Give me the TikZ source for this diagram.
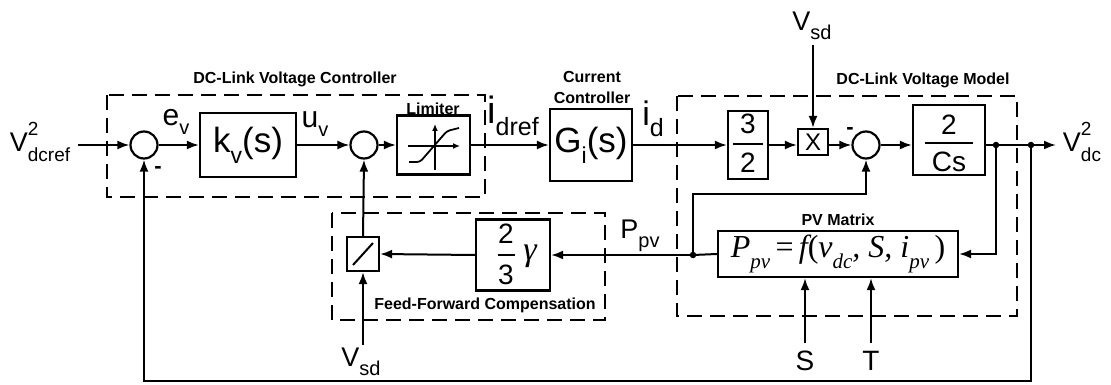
\documentclass[tikz,border=0pt]{standalone}
\usepackage{fontspec}
\setmainfont{Liberation Sans}
\newfontfamily\tnr{Liberation Serif}
\usetikzlibrary{arrows.meta,calc}
\newcommand\fs[1]{\fontsize{#1}{#1}\selectfont}
\newcommand\sbs[2]{\raisebox{-0.32em}{\fs{#1}#2}}
\begin{document}
\begin{tikzpicture}[x=1pt,y=-1pt,
  blk/.style={draw, line width=2.2pt, inner sep=0pt},
  sumc/.style={draw, circle, line width=2.2pt, minimum size=27pt, inner sep=0pt},
  grp/.style={draw, line width=2.4pt, dash pattern=on 15pt off 8pt},
  con/.style={line width=2pt},
  arr/.style={con, -{Latex[length=12pt,width=9pt]}},
  sarr/.style={line width=1.5pt, -{Latex[length=7pt,width=6pt]}},
  jdot/.style={circle, fill, inner sep=0pt, minimum size=6.5pt},
  lbl/.style={font=\fs{16}\bfseries, inner sep=0pt},
  txt/.style={inner sep=0pt}]
\useasboundingbox (0,0) rectangle (1111,385);
% dashed groups
\draw[grp] (107,95) rectangle (485,197);
\draw[grp] (332,213) rectangle (605,320);
\draw[grp] (677,96) rectangle (1017,316);
\node[lbl] (lvc) at (295,79) {DC-Link Voltage Controller};
\node[lbl] (lcc1) at (592,77) {Current};
\node[lbl] (lcc2) at (592,98) {Controller};
\node[lbl] (lvm) at (923,80) {DC-Link Voltage Model};
\node[lbl] (lpv) at (838,220) {PV Matrix};
\node[lbl] (lff) at (485,305) {Feed-Forward Compensation};
% blocks
\node[sumc] (s1) at (144,145) {};
\node[blk, minimum width=96pt, minimum height=64pt] (kv) at (248,145) {\fs{35}k\sbs{23}{v}(s)};
\node[sumc] (s2) at (364,145) {};
\node[blk, minimum width=73pt, minimum height=59pt] (lim) at (433.5,145) {};
\node[lbl] (llim) at (433,109) {Limiter};
\node[blk, minimum width=82pt, minimum height=72pt] (gi) at (591,145) {\fs{35}G\sbs{23}{i}(s)};
\node[blk, minimum width=40pt, minimum height=68pt] (k32) at (748,145) {};
\node[txt, font=\fs{28}] (k32a) at (748,124) {3};
\node[txt, font=\fs{28}] (k32b) at (748,163) {2};
\draw[line width=1.8pt] (733,144) -- (763,144);
\node[blk, minimum width=30pt, minimum height=26pt, font=\fs{24}] (mul) at (813,142) {X};
\node[sumc] (s3) at (866,145) {};
\node[blk, minimum width=72pt, minimum height=70pt] (f2cs) at (949,140) {};
\node[txt, font=\fs{28}] (f2a) at (949,125) {2};
\node[txt, font=\fs{28}] (f2b) at (949,162) {Cs};
\draw[line width=1.8pt] (925,143) -- (973,143);
\node[blk, minimum width=240pt, minimum height=46pt] (pv) at (838,254)
  {\tnr\itshape\fs{32}P\sbs{21}{pv}\,{\upshape =}\,f{\upshape (}v\sbs{21}{dc}, S, i\sbs{21}{pv}\,{\upshape )}};
\node[blk, minimum width=74pt, minimum height=71pt] (f23) at (513,255) {};
\node[txt, font=\fs{28}] (f23a) at (506,234) {2};
\node[txt, font=\fs{28}] (f23b) at (506,275) {3};
\draw[line width=1.8pt] (498,255) -- (515,255);
\node[txt, font=\tnr\itshape\fs{34}] (gam) at (530,256) {γ};
\node[blk, minimum width=32pt, minimum height=34pt] (div) at (363,254) {};
\draw[line width=2pt] (353,265) -- (373,243);
% limiter symbol
\draw[sarr] (408,146) -- (460,146);
\draw[sarr] (435,170) -- (435,124);
\draw[line width=1.8pt, rounded corners=3pt] (409,162) -- (420,162) -- (447,131) -- (459,128);
% junctions and terminals
\coordinate (in) at (78,145);
\coordinate (vsdt) at (813,45);
\coordinate (vsdb) at (363,345);
\coordinate (sin) at (805,343);
\coordinate (tin) at (871,343);
\coordinate (out) at (1056,145);
\coordinate (fb) at (1031,381);
\coordinate (up) at (693,194);
\node[jdot] (j1) at (996,145) {};
\node[jdot] (j2) at (1031,145) {};
\node[jdot] (j3) at (693,255) {};
% labels
\node[txt, font=\fs{27}] (lref) at (40,142) {V\rlap{\raisebox{0.6em}{\fs{19}2}}\raisebox{-0.35em}{\fs{19}dcref}};
\node[txt, font=\fs{27}] (lout) at (1082,142) {V\rlap{\raisebox{0.6em}{\fs{19}2}}\raisebox{-0.35em}{\fs{19}dc}};
\node[txt, font=\fs{27}] (lvsdt) at (812,26) {V\sbs{20}{sd}};
\node[txt, font=\fs{27}] (lvsdb) at (361,362) {V\sbs{20}{sd}};
\node[txt, font=\fs{28}] (lS) at (805,361) {S};
\node[txt, font=\fs{28}] (lT) at (871,361) {T};
\node[txt, font=\fs{30}] (lev) at (176,122) {e\sbs{20}{v}};
\node[txt, font=\fs{30}] (luv) at (315,124) {u\sbs{20}{v}};
\node[txt, font=\fs{38}] (lid) at (513,116) {i\sbs{25}{dref}};
\node[txt, font=\fs{34}] (lidd) at (653,119) {i\sbs{25}{d}};
\node[txt, font=\fs{27}] (lppv) at (640,236) {P\sbs{20}{pv}};
\node[txt, font=\fs{22}\bfseries] (m1) at (158,170) {-};
\node[txt, font=\fs{22}\bfseries] (m3) at (850,131) {-};
% connectors
\draw[arr] (in) -- (s1.west);
\draw[arr] (s1.east) -- (kv.west);
\draw[arr] (kv.east) -- (s2.west);
\draw[arr] (s2.east) -- (lim.west);
\draw[arr] (lim.east) -- (gi.west);
\draw[arr] (gi.east) -- (k32.west);
\draw[arr] (k32.east) -- (k32.east -| mul.west);
\draw[arr] (vsdt) -- (mul.north);
\draw[arr] (mul.east |- s3.west) -- (s3.west);
\draw[arr] (s3.east) -- (s3.east -| f2cs.west);
\draw[con] (f2cs.east |- s3.east) -- (j2.center);
\draw[arr] (j2.center) -- (out);
\draw[arr] (j1.center) |- (pv.east);
\draw[arr] (j2.center) -- (fb) -| (s1.south);
\draw[con] (pv.west) -- (j3.center);
\draw[arr] (j3.center) -- (f23.east);
\draw[arr] (j3.center) -- (up) -| (s3.south);
\draw[arr] (f23.west) -- (div.east);
\draw[arr] (div.north) -- (s2.south);
\draw[arr] (vsdb) -- (div.south);
\draw[arr] (sin) -- (sin |- pv.south);
\draw[arr] (tin) -- (tin |- pv.south);
\end{tikzpicture}
\end{document}
